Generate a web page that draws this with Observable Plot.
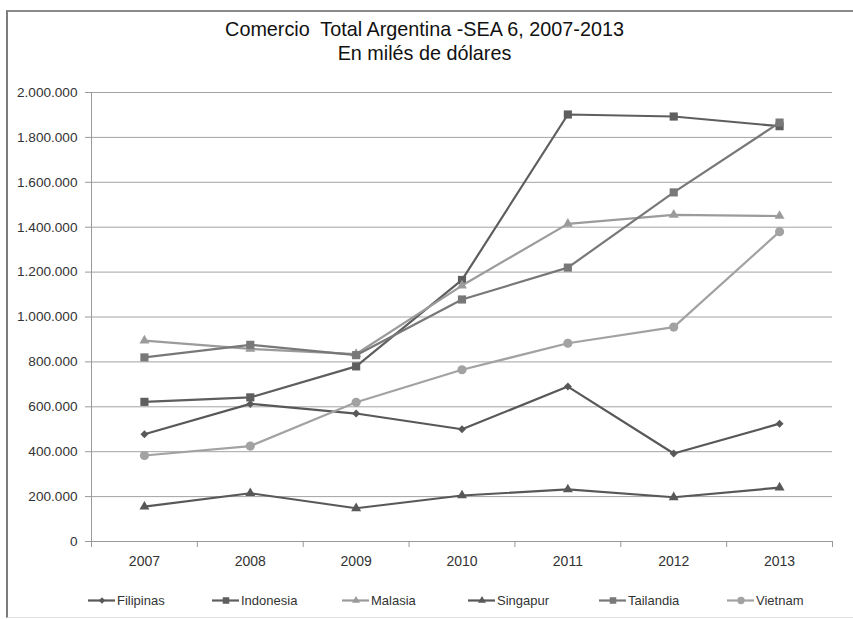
<!DOCTYPE html>
<html><head><meta charset="utf-8">
<script src="https://cdn.jsdelivr.net/npm/d3@7"></script>
<script src="https://cdn.jsdelivr.net/npm/@observablehq/plot@0.6"></script>
<style>
body{margin:0;background:#fff;font-family:"Liberation Sans",Arial,sans-serif;width:853px;height:619px;overflow:hidden;position:relative;}
#frame{position:absolute;left:6px;top:10px;width:880px;height:605px;border-left:2px solid #7c7c7c;border-top:2px solid #8a8a8a;border-bottom:1px solid #e2e2e2;}
#title{position:absolute;left:0;top:17px;width:849px;text-align:center;font-size:19.8px;line-height:24px;color:#111;white-space:pre;}
#chart{position:absolute;left:0;top:70px;}
#legend{position:absolute;top:591px;left:0;width:853px;height:18px;}
.item{position:absolute;top:0;height:18px;display:flex;align-items:center;font-size:13px;color:#333;white-space:nowrap;}
.item svg{margin-right:2px;}
</style></head><body>
<div id="frame"></div>
<div id="title">Comercio  Total Argentina -SEA 6, 2007-2013
En milés de dólares</div>
<div id="chart"></div>
<div id="legend"></div>
<script>
const years = ["2007","2008","2009","2010","2011","2012","2013"];
const countries = ["Filipinas","Indonesia","Malasia","Singapur","Tailandia","Vietnam"];
const filipinas = [478000, 613000, 570000, 500000, 690000, 392000, 525000];
const indonesia = [622000, 642000, 780000, 1165000, 1902000, 1893000, 1850000];
const malasia   = [895000, 858000, 835000, 1140000, 1415000, 1455000, 1450000];
const singapur  = [155000, 215000, 148000, 205000, 232000, 197000, 240000];
const tailandia = [820000, 876000, 830000, 1078000, 1220000, 1555000, 1866000];
const vietnam   = [383000, 425000, 620000, 765000, 883000, 955000, 1380000];
const yTicks = [0,200000,400000,600000,800000,1000000,1200000,1400000,1600000,1800000,2000000];

const seriesValues = [filipinas, indonesia, malasia, singapur, tailandia, vietnam];
const colors  = ["#585858","#5e5e5e","#9b9b9b","#585858","#787878","#a2a2a2"];
const symbols = ["diamond2","square","triangle","triangle","square","circle"];
const radii   = [3.6, 4.6, 3.7, 3.7, 4.6, 4.6];

const data = [];
countries.forEach((c, i) => years.forEach((y, j) => data.push({country: c, year: y, value: seriesValues[i][j]})));

const fmt = d3.formatLocale({decimal: ",", thousands: ".", grouping: [3], currency: ["", ""]}).format(",");

const width = 853, height = 500, mL = 91, mR = 21, mT = 22, mB = 29;
const step = (width - mL - mR) / years.length;

const marks = [
  Plot.gridY(yTicks, {stroke: "#a3a3a3", strokeOpacity: 1, strokeWidth: 1}),
  Plot.axisY(yTicks, {label: null, tickSize: 6, tickPadding: 8, tickFormat: fmt, fontSize: 13.6, fill: "#333", stroke: "#999", strokeOpacity: 1}),
  Plot.ruleX([years[0]], {dx: -step / 2, y1: 0, y2: 2000000, stroke: "#999"}),
  Plot.ruleY([0], {stroke: "#999"}),
  Plot.axisX(years, {label: null, tickSize: 6, tickFormat: () => "", dx: -step / 2, stroke: "#999", strokeOpacity: 1}),
  Plot.axisX([years[years.length - 1]], {label: null, tickSize: 6, tickFormat: () => "", dx: step / 2, stroke: "#999", strokeOpacity: 1}),
  Plot.axisX(years, {label: null, tickSize: 0, tickPadding: 15, fontSize: 14, fill: "#333"})
];
countries.forEach((c, i) => {
  const d = data.filter(r => r.country === c);
  marks.push(Plot.line(d, {x: "year", y: "value", stroke: colors[i], strokeWidth: 2.2}));
  marks.push(Plot.dot(d, {x: "year", y: "value", fill: colors[i], stroke: "none", symbol: () => symbols[i], r: radii[i]}));
});

const chart = Plot.plot({
  width, height, marginLeft: mL, marginRight: mR, marginTop: mT, marginBottom: mB,
  style: {fontFamily: "Liberation Sans, Arial, sans-serif", background: "transparent"},
  x: {type: "point", domain: years, padding: 0.5, align: 0.5, round: false, axis: null, label: null},
  y: {domain: [0, 2000000], axis: null, label: null},
  symbol: {type: "identity"},
  marks
});
document.getElementById("chart").appendChild(chart);

// legend
const legendLeft = [88, 212, 342, 468, 599, 727];
const legend = document.getElementById("legend");
countries.forEach((c, i) => {
  const item = document.createElement("div");
  item.className = "item";
  item.style.left = legendLeft[i] + "px";
  const sym = Plot.plot({
    width: 27, height: 14, margin: 0,
    x: {domain: [0, 1], axis: null}, y: {domain: [0, 1], axis: null},
    symbol: {type: "identity"},
    style: {background: "transparent", overflow: "visible"},
    marks: [
      Plot.ruleY([0.5], {x1: 0, x2: 1, stroke: colors[i], strokeWidth: 2.2}),
      Plot.dot([0.5], {x: 0.5, y: 0.5, fill: colors[i], stroke: "none", symbol: () => symbols[i], r: radii[i] * 0.8})
    ]
  });
  item.appendChild(sym);
  const t = document.createElement("span");
  t.textContent = c;
  item.appendChild(t);
  legend.appendChild(item);
});
</script>
</body></html>
